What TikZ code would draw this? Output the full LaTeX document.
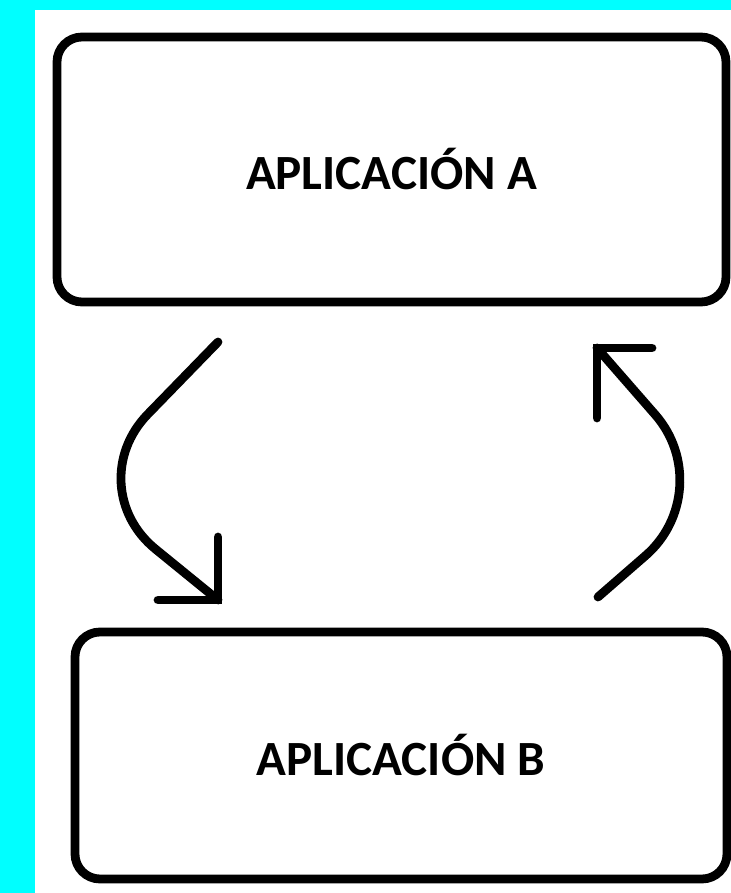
\documentclass[tikz,border=0pt]{standalone}
\usepackage{fontspec}
\setmainfont{Carlito}
\usepackage{xcolor}
\definecolor{fondo}{RGB}{0,255,255}

\begin{document}
\begin{tikzpicture}[
	caja/.style={draw, line width=5pt, rounded corners=0.5cm, inner sep=0pt,
		font=\fontsize{28}{34}\selectfont\bfseries},
	trazo/.style={line width=5pt, line cap=round, line join=round},
	]
	% background and frame
	\fill[fondo] (0,0) rectangle (14.62,17.86);
	\fill[white] (0.7,0) rectangle (14.62,17.66);
	\useasboundingbox (0,0) rectangle (14.62,17.86);

	% the two applications
	\node[caja, minimum width=13.38cm, minimum height=5.3cm] (appA) at (7.83,14.47) {APLICACIÓN A};
	\node[caja, minimum width=13.04cm, minimum height=4.94cm] (appB) at (8.02,2.75) {APLICACIÓN B};

	% points of the arrow from A to B
	\coordinate (ab1) at (4.36,11.02);
	\coordinate (ab2) at (1.56,8.14);
	\coordinate (ab3) at (4.36,5.86);

	% points of the arrow from B to A
	\coordinate (ba1) at (11.96,5.92);
	\coordinate (ba2) at (14.42,8.06);
	\coordinate (ba3) at (11.94,10.9);

	% draw the two curved arrows
	\draw[trazo, rounded corners=2cm] (ab1) -- (ab2) -- (ab3);
	\draw[trazo, line join=miter] (ab3) ++(-1.2,0) -- (ab3) -- ++(0,1.26);

	\draw[trazo, rounded corners=2cm] (ba1) -- (ba2) -- (ba3);
	\draw[trazo, line join=miter] (ba3) ++(1.1,0) -- (ba3) -- ++(0,-1.4);
\end{tikzpicture}
\end{document}
